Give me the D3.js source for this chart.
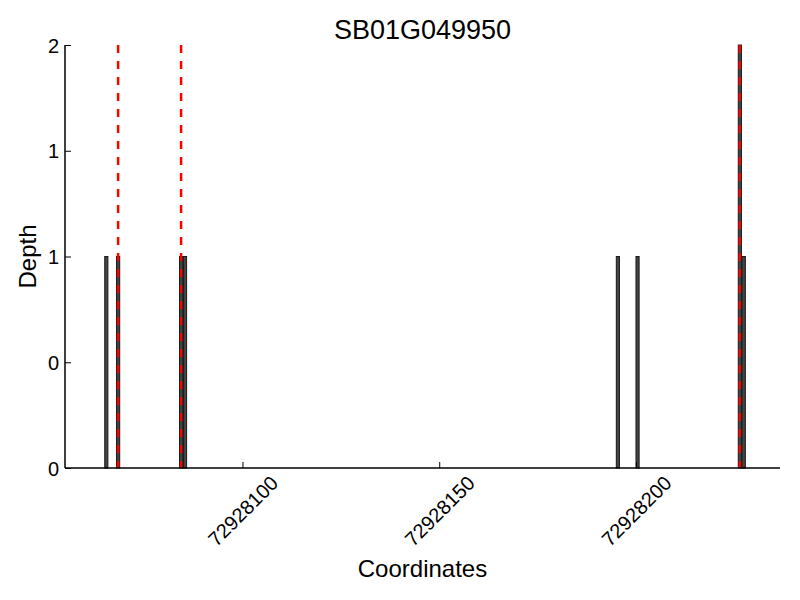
<!DOCTYPE html>
<html><head><meta charset="utf-8">
<script src="https://cdn.jsdelivr.net/npm/d3@7"></script>
<style>body{margin:0;background:#fff}svg{display:block}text{font-family:"Liberation Sans",Arial,sans-serif;fill:#000}</style>
</head><body>
<svg id="c" width="800" height="600"></svg>
<script>
const title = "SB01G049950";
const positions = [72928065, 72928068, 72928084, 72928085, 72928195, 72928200, 72928226, 72928227];
const depths    = [1, 1, 1, 1, 1, 1, 2, 1];
const markers   = [72928068, 72928084, 72928226];
const xTicks = [72928100, 72928150, 72928200];
const yTicks = [0, 0.5, 1, 1.5, 2];
const yTickLabels = ["0", "0", "1", "1", "2"];

const svg = d3.select("#c");
const L = 65, R = 780, T = 45, B = 468;
const x = d3.scaleLinear().domain([72928054.9, 72928236.6]).range([L, R]);
const y = d3.scaleLinear().domain([0, 2]).range([B, T]);
const barW = 0.8;

// bars
svg.append("g").selectAll("rect").data(positions).join("rect")
  .attr("x", d => x(d))
  .attr("width", d => x(d + barW) - x(d))
  .attr("y", (d, i) => y(depths[i]))
  .attr("height", (d, i) => y(0) - y(depths[i]))
  .attr("fill", "#444").attr("stroke", "#1a1a1a").attr("stroke-width", 1);

// red dashed markers
svg.append("g").selectAll("line").data(markers).join("line")
  .attr("x1", d => x(d + barW / 2)).attr("x2", d => x(d + barW / 2))
  .attr("y1", T).attr("y2", B)
  .attr("stroke", "red").attr("stroke-width", 2.5).attr("stroke-dasharray", "8,8");

// axes (left & bottom spines, inward ticks)
const xa = svg.append("g").attr("transform", `translate(0,${B})`)
  .call(d3.axisBottom(x).tickValues(xTicks).tickSize(-6).tickFormat(""));
xa.select(".domain").attr("d", `M${L},0H${R}`).attr("stroke-width", 1.5);
xa.selectAll(".tick line").attr("stroke-width", 1);
xa.selectAll(".tick").append("text")
  .attr("transform", "translate(0,43) rotate(-45)")
  .attr("text-anchor", "middle").attr("dominant-baseline", "central")
  .style("font-size", "20px").attr("fill", "#000")
  .text(d => d);

const ya = svg.append("g").attr("transform", `translate(${L},0)`)
  .call(d3.axisLeft(y).tickValues(yTicks).tickSize(-6).tickFormat(""));
ya.select(".domain").attr("d", `M0,${T}V${B}`).attr("stroke-width", 1.5);
ya.selectAll(".tick").append("text")
  .attr("x", -6).attr("dy", "0.36em")
  .attr("text-anchor", "end").style("font-size", "20px").attr("fill", "#000")
  .text((d, i) => yTickLabels[i]);

// labels
svg.append("text").attr("x", (L + R) / 2).attr("y", 39).attr("text-anchor", "middle")
  .style("font-size", "27px").text(title);
svg.append("text").attr("x", (L + R) / 2).attr("y", 577).attr("text-anchor", "middle")
  .style("font-size", "24px").text("Coordinates");
svg.append("text").attr("transform", `translate(36,${(T + B) / 2}) rotate(-90)`)
  .attr("text-anchor", "middle").style("font-size", "24px").text("Depth");
</script>
</body></html>
